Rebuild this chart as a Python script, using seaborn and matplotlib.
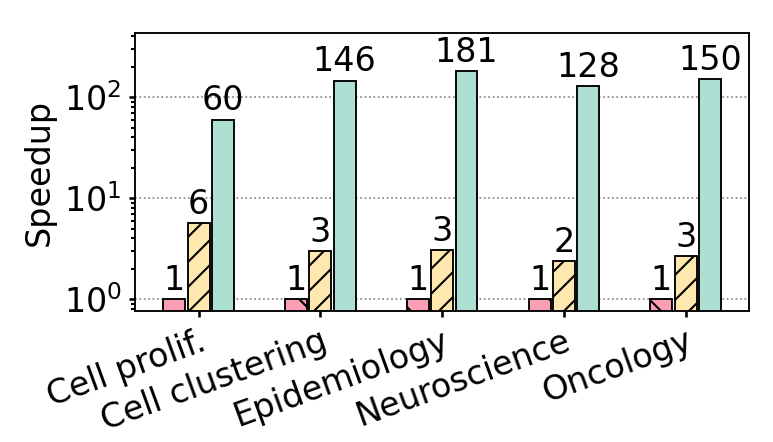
import pandas as pd
import seaborn as sns
import matplotlib.pyplot as plt

categories = ['Cell prolif.', 'Cell clustering', 'Epidemiology', 'Neuroscience', 'Oncology']
methods = ['Baseline', 'Optimized', 'Full']
baseline = [1, 1, 1, 1, 1]
optimized = [5.7, 3.0, 3.05, 2.4, 2.65]
full = [60, 146, 181, 128, 150]

colors = ['#fba0b4', '#fee8b0', '#ade0d3']
hatches = ['\\', '//', '']

sns.set_theme(style="white")
plt.rcParams['font.family'] = ['DejaVu Sans']
plt.rcParams['hatch.linewidth'] = 1.0
plt.rcParams['text.color'] = 'black'
plt.rcParams['axes.labelcolor'] = 'black'
plt.rcParams['xtick.color'] = 'black'
plt.rcParams['ytick.color'] = 'black'

df = pd.DataFrame({
    'Workload': categories * 3,
    'Method': [m for m in methods for _ in categories],
    'Speedup': baseline + optimized + full,
})

fig, ax = plt.subplots(figsize=(773 / 150, 442 / 150), dpi=150)
sns.barplot(data=df, x='Workload', y='Speedup', hue='Method', palette=colors,
            saturation=1, width=0.6, gap=0.1, edgecolor='black', linewidth=0.9,
            ax=ax, legend=False)

ax.set_yscale('log')
ax.set_ylim(0.76, 430)
ax.set_xlim(-0.52, 4.52)

for container, h in zip(ax.containers, hatches):
    for bar in container:
        bar.set_hatch(h)
    ax.bar_label(container, labels=[f'{v:.0f}' for v in container.datavalues],
                 fontsize=16, padding=1, color='black')

ax.yaxis.grid(True, which='major', linestyle=':', color='gray', linewidth=0.8)
ax.set_axisbelow(True)
for s in ax.spines.values():
    s.set_color('black')
    s.set_linewidth(0.9)

ax.tick_params(axis='both', which='both', left=True, bottom=True, color='black')
ax.tick_params(axis='y', which='major', labelsize=16, length=3)
ax.tick_params(axis='y', which='minor', length=2)
ax.tick_params(axis='x', labelsize=16, length=3)
plt.setp(ax.get_xticklabels(), rotation=20, ha='right', rotation_mode='anchor')

ax.set_xlabel('')
ax.set_ylabel('Speedup', fontsize=16)

plt.subplots_adjust(left=0.175, right=0.969, top=0.925, bottom=0.296)
plt.savefig('out.png', dpi=150)
